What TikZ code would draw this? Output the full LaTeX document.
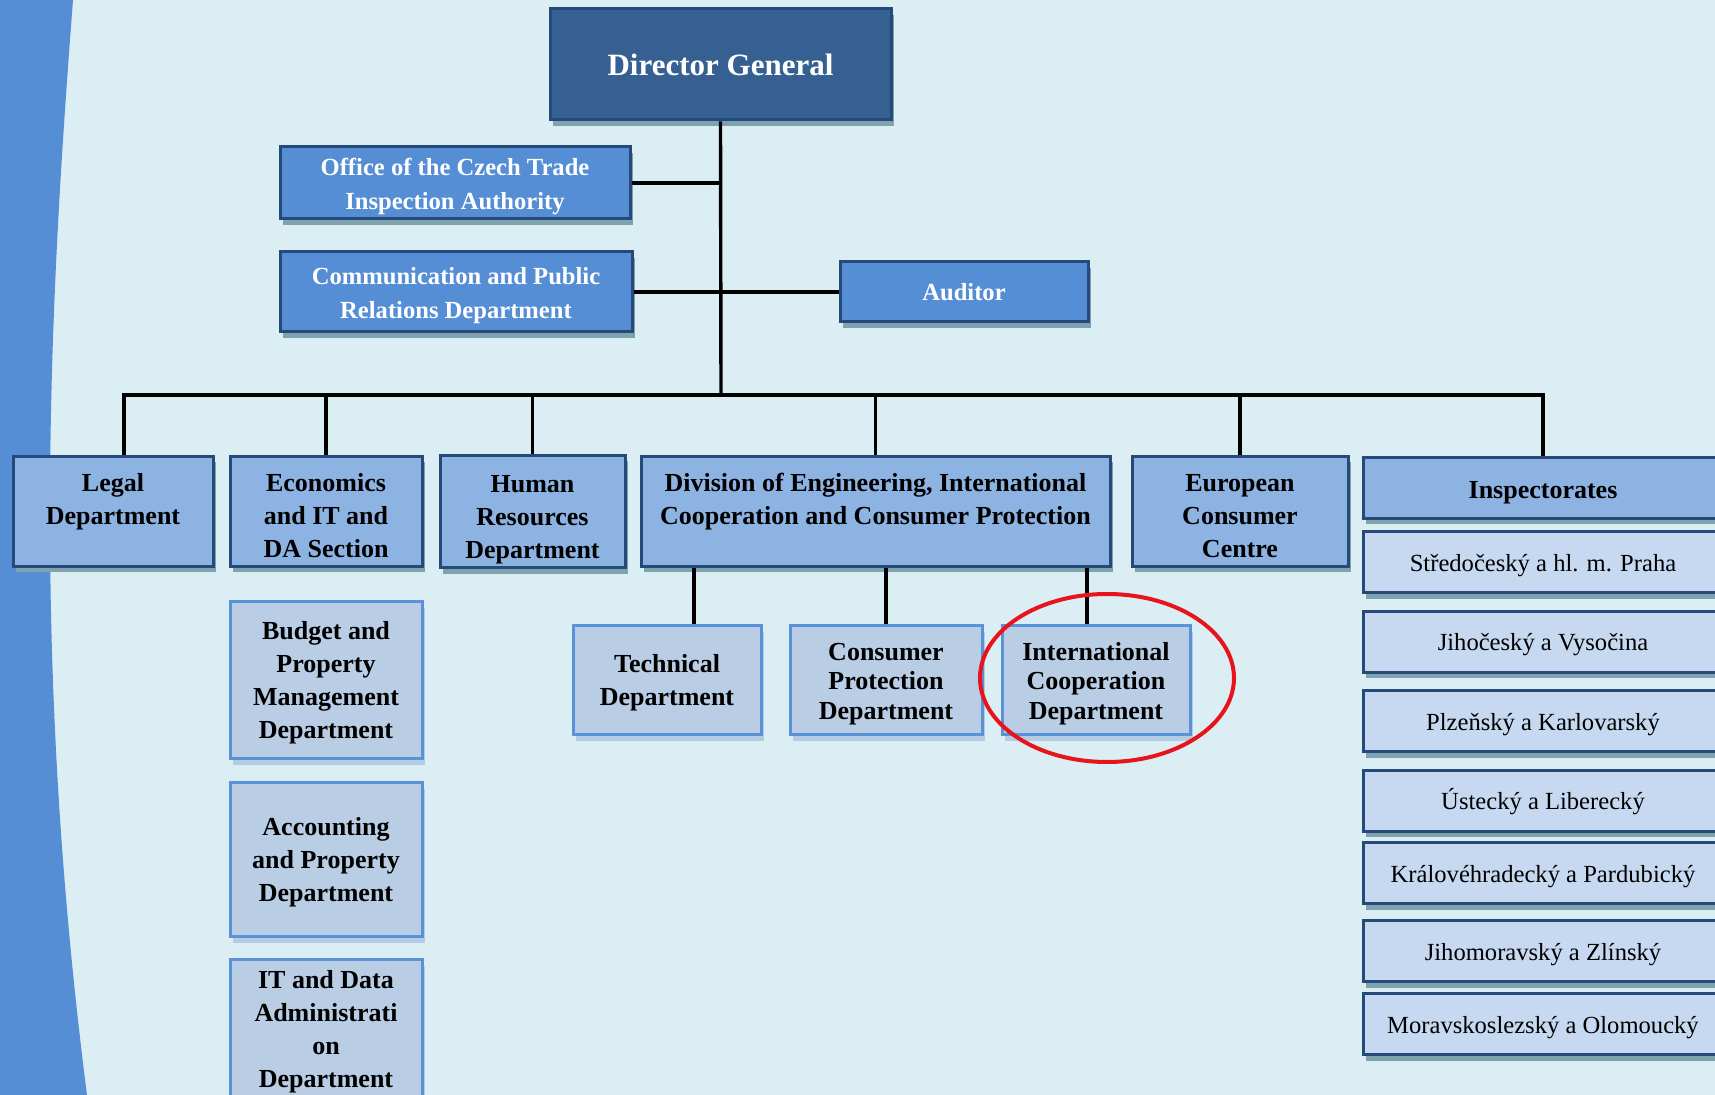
\documentclass[tikz,border=0pt]{standalone}
\usepackage{fontspec}
\setmainfont{Liberation Serif}
\usetikzlibrary{shadows}
\usetikzlibrary{calc,positioning}

\definecolor{bgblue}{HTML}{DBEEF4}
\definecolor{stripe}{HTML}{558ED5}
\definecolor{dgfill}{HTML}{366092}
\definecolor{midfill}{HTML}{558ED5}
\definecolor{deptfill}{HTML}{8DB3E2}
\definecolor{subfill}{HTML}{B9CDE5}
\definecolor{regfill}{HTML}{C6D9F1}
\definecolor{darkline}{HTML}{254A7A}
\definecolor{lightline}{HTML}{5B91D6}
\definecolor{shadedark}{HTML}{7EA3AF}
\definecolor{shadelight}{HTML}{B4CBE4}
\definecolor{ovalred}{HTML}{E8141B}

% invisible strut that pushes a text block down
\newcommand{\pad}[1]{\rule{0pt}{#1}}

\begin{document}
\begin{tikzpicture}[x=0.5pt, y=-0.5pt,
    orgbox/.style={draw=darkline, line width=1.5pt, align=center, inner sep=2pt},
    darkshade/.style={drop shadow={shadow xshift=1.5pt, shadow yshift=-3pt, fill=shadedark, opacity=1}},
    lightshade/.style={drop shadow={shadow xshift=1.5pt, shadow yshift=-3pt, fill=shadelight, opacity=1}},
    headbox/.style={orgbox, darkshade, fill=dgfill, text=white, font=\bfseries\fontsize{15.5}{19}\selectfont},
    staffbox/.style={orgbox, darkshade, fill=midfill, text=white, font=\bfseries\fontsize{12.3}{17}\selectfont},
    deptbox/.style={orgbox, darkshade, fill=deptfill, font=\bfseries\fontsize{13}{16.5}\selectfont},
    subbox/.style={orgbox, lightshade, draw=lightline, fill=subfill, font=\bfseries\fontsize{13}{16.5}\selectfont},
    tightbox/.style={subbox, font=\bfseries\fontsize{13}{14.8}\selectfont},
    regbox/.style={orgbox, darkshade, fill=regfill, font=\fontsize{12.3}{15}\selectfont,
      text height=12pt, text depth=3pt},
    link/.style={line width=1.7pt}]

    \useasboundingbox (0,0) rectangle (1715,1095);
    \clip (0,0) rectangle (1715,1095);
    \fill[bgblue] (0,0) rectangle (1715,1095);
    \fill[stripe] (0,0) -- (73,0) .. controls (50,300) and (30,650) .. (87,1095) -- (0,1095) -- cycle;

    % top of the chart
    \node[headbox, minimum width=170.5pt, minimum height=55.5pt] (dg) at (720.5,64.5) {Director General};
    \node[staffbox, minimum width=175pt, minimum height=36pt] (office) at (455,183) {\pad{11.7pt}Office of the Czech Trade\\Inspection Authority};
    \node[staffbox, minimum width=176pt, minimum height=40pt] (comm) at (456,292) {\pad{11.7pt}Communication and Public\\Relations Department};
    \node[staffbox, minimum width=124pt, minimum height=30pt] (auditor) at (964,292) {Auditor};
    \coordinate (bus) at (721,395);

    % departments
    \node[deptbox, minimum width=100pt, minimum height=55pt] (legal) at (113,511.5) {\pad{13.3pt}Legal\\Department\\\mbox{}};
    \node[deptbox, minimum width=96pt, minimum height=55pt] (econ) at (326,511.5) {\pad{13.3pt}Economics\\and IT and\\DA Section};
    \node[deptbox, minimum width=92.5pt, minimum height=55pt] (hr) at (532.5,511.5) {\pad{16.6pt}Human\\Resources\\Department};
    \node[deptbox, minimum width=234.5pt, minimum height=55pt] (division) at (875.5,511.5) {\pad{13.3pt}Division of Engineering, International\\Cooperation and Consumer Protection\\\mbox{}};
    \node[deptbox, minimum width=108pt, minimum height=55pt] (ecc) at (1240,511.5) {\pad{13.3pt}European\\Consumer\\Centre};
    \node[deptbox, minimum width=180pt, minimum height=30.5pt] (insp) at (1543,488) {\pad{13.3pt}Inspectorates};

    % sections
    \node[subbox, minimum width=96pt, minimum height=78.5pt] (budget) at (326,680.5) {\pad{11.7pt}Budget and\\Property\\Management\\Department};
    \node[subbox, minimum width=96pt, minimum height=77pt] (account) at (326,860) {\pad{11.7pt}Accounting\\and Property\\Department};
    \node[subbox, minimum width=96pt, minimum height=70pt] (itdata) at (326,1030) {\pad{10.5pt}IT and Data\\Administrati\\on\\Department};
    \node[subbox, minimum width=94pt, minimum height=54.5pt] (tech) at (667,680.5) {\pad{11.7pt}Technical\\Department};
    \node[tightbox, minimum width=96pt, minimum height=54.5pt] (consumer) at (886,680.5) {\pad{12.2pt}Consumer\\Protection\\Department};
    \node[tightbox, minimum width=94pt, minimum height=54.5pt] (intl) at (1096,680.5) {\pad{12.2pt}International\\Cooperation\\Department};

    % regional inspectorates
    \foreach \n/\y/\region in {1/562.5/Středočeský a hl. m. Praha, 2/642/Jihočeský a Vysočina,
        3/721.5/Plzeňský a Karlovarský, 4/801/Ústecký a Liberecký,
        5/873.5/Královéhradecký a Pardubický, 6/951.5/Jihomoravský a Zlínský,
        7/1024.5/Moravskoslezský a Olomoucký}
        \node[regbox, minimum width=180pt, minimum height=30.5pt] (reg\n) at (1543,\y) {\region};

    % connectors
    \draw[link] (dg.south) -- (bus);
    \draw[link] (office.east) -- (office.east -| dg.south);
    \draw[link] (comm.east) -- (auditor.west);
    \draw[link] ([xshift=5.5pt]legal.north) |- (insp.north |- bus) -- (insp.north);
    \foreach \n in {econ,hr,division,ecc}
        \draw[link] (\n.north) -- (\n.north |- bus);
    \draw[link] ([xshift=13.5pt]tech.north) -- ([xshift=13.5pt]tech.north |- division.south);
    \draw[link] (consumer.north) -- (consumer.north |- division.south);
    \draw[link] ([xshift=-4.5pt]intl.north) -- ([xshift=-4.5pt]intl.north |- division.south);

    \draw[ovalred, line width=2pt] (1107,678) ellipse (63.5pt and 42pt);

\end{tikzpicture}
\end{document}
